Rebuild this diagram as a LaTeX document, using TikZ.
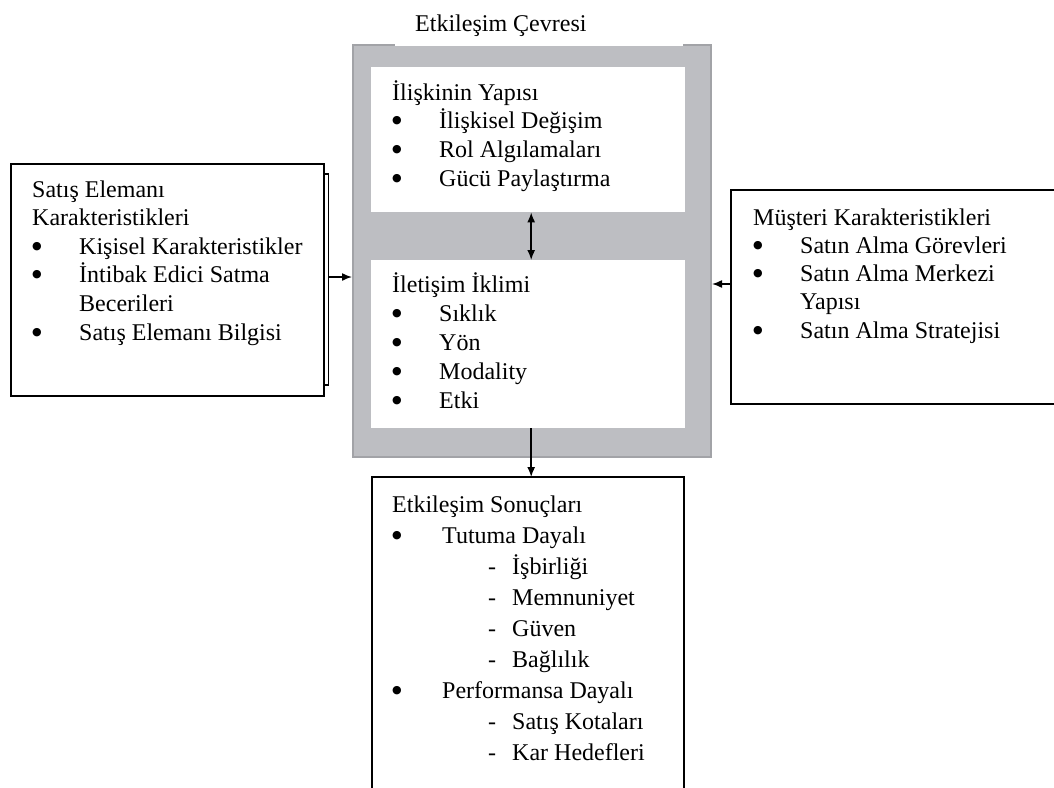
\documentclass[tikz,border=0pt]{standalone}
\usepackage{fontspec}
\setmainfont{Liberation Serif}
\newfontfamily\dotfont{DejaVu Sans}
\usetikzlibrary{arrows.meta}

\definecolor{envfill}{RGB}{189,190,194}
\definecolor{envedge}{RGB}{162,163,167}

% list helpers: fixed line pitch, bullet column and dash column
\newlength\bulw
\setlength\bulw{47pt}
\newcommand\tline[1]{\hbox{#1}}
\newcommand\bigdot{\raisebox{5pt}{\dotfont\fontsize{11pt}{11pt}\selectfont ●}}
\newcommand\bul{\makebox[\bulw][l]{\bigdot}}
\newcommand\bitem[1]{\hbox{\bul#1}}
\newcommand\contitem[1]{\hbox{\hspace*{\bulw}#1}}
\newcommand\dashitem[1]{\hbox{\hspace*{96pt}\makebox[24pt][l]{-}#1}}
\newcommand\textblock[2]{\vtop{\fontsize{24pt}{#1}\selectfont
  \lineskiplimit=-100pt\lineskip=0pt #2}}

\tikzset{
  box/.style={draw, line width=2pt, inner sep=0pt, anchor=north west},
  inner/.style={fill=white, inner sep=0pt, anchor=north west},
  words/.style={inner sep=0pt, anchor=base west, font=\fontsize{24pt}{28pt}\selectfont},
  conn/.style={line width=1.5pt, -{Latex[length=10pt,width=8pt]}},
  conn2/.style={line width=1.5pt, {Latex[length=10pt,width=8pt]}-{Latex[length=10pt,width=8pt]}},
}

\begin{document}
\begin{tikzpicture}[x=1pt, y=-1pt]
\useasboundingbox (0,0) rectangle (1054,787);
\clip (0,0) rectangle (1054,787);

% interaction environment
\node[inner sep=0pt, anchor=north west, fill=envfill, draw=envedge, line width=2pt,
      minimum width=358pt, minimum height=412pt] (env) at (352,44) {};
\fill[white] (395,-2) rectangle (683,45.5);
\node[words] (title) at (415,31) {Etkileşim Çevresi};

\node[inner, minimum width=314pt, minimum height=145pt] (rel) at (371,67) {};
\node[inner, minimum width=314pt, minimum height=168pt] (comm) at (371,260) {};

\node[words] (reltext) at (392,100) {\textblock{28.7pt}{%
  \tline{İlişkinin Yapısı}
  \bitem{İlişkisel Değişim}
  \bitem{Rol Algılamaları}
  \bitem{Gücü Paylaştırma}}};

\node[words] (commtext) at (392,292) {\textblock{29pt}{%
  \tline{İletişim İklimi}
  \bitem{Sıklık}
  \bitem{Yön}
  \bitem{Modality}
  \bitem{Etki}}};

% salesperson characteristics
\node[box, minimum width=313pt, minimum height=232pt] (sel) at (10,163) {};
\draw[line width=1.2pt] ([yshift=-11pt]sel.north east) -- ++(3.5,0) |- ([yshift=12pt]sel.south east);
\node[words] (seltext) at (32,197) {\textblock{28.6pt}{%
  \tline{Satış Elemanı}
  \tline{Karakteristikleri}
  \bitem{Kişisel Karakteristikler}
  \bitem{İntibak Edici Satma}
  \contitem{Becerileri}
  \bitem{Satış Elemanı Bilgisi}}};

% customer characteristics
\node[box, minimum width=340pt, minimum height=214pt] (mc) at (730,189) {};
\node[words] (mctext) at (753,225) {\textblock{28.25pt}{%
  \tline{Müşteri Karakteristikleri}
  \bitem{Satın Alma Görevleri}
  \bitem{Satın Alma Merkezi}
  \contitem{Yapısı}
  \bitem{Satın Alma Stratejisi}}};

% interaction outcomes (open at the bottom)
\node[inner sep=0pt, anchor=north west, minimum width=312pt, minimum height=330pt] (res) at (372,477) {};
\draw[line width=2pt] (res.south west) -- (res.north west) -- (res.north east) -- (res.south east);
\node[words] (restext) at (392,512) {\textblock{31pt}{%
  \tline{Etkileşim Sonuçları}
  \hbox{\setlength\bulw{50pt}\bul Tutuma Dayalı}
  \dashitem{İşbirliği}
  \dashitem{Memnuniyet}
  \dashitem{Güven}
  \dashitem{Bağlılık}
  \hbox{\setlength\bulw{50pt}\bul Performansa Dayalı}
  \dashitem{Satış Kotaları}
  \dashitem{Kar Hedefleri}}};

% connectors
\draw[conn2] ([xshift=3pt]rel.south) -- ([xshift=3pt]comm.north);
\draw[conn] ([xshift=3pt]comm.south) coordinate (commout) -- (commout |- res.north);
\draw[conn] ([xshift=3.5pt,yshift=3pt]sel.east) coordinate (selout) -- (selout -| env.west);
\draw[conn] ([yshift=13pt]mc.west) coordinate (mcout) -- (mcout -| env.east);
\end{tikzpicture}
\end{document}
